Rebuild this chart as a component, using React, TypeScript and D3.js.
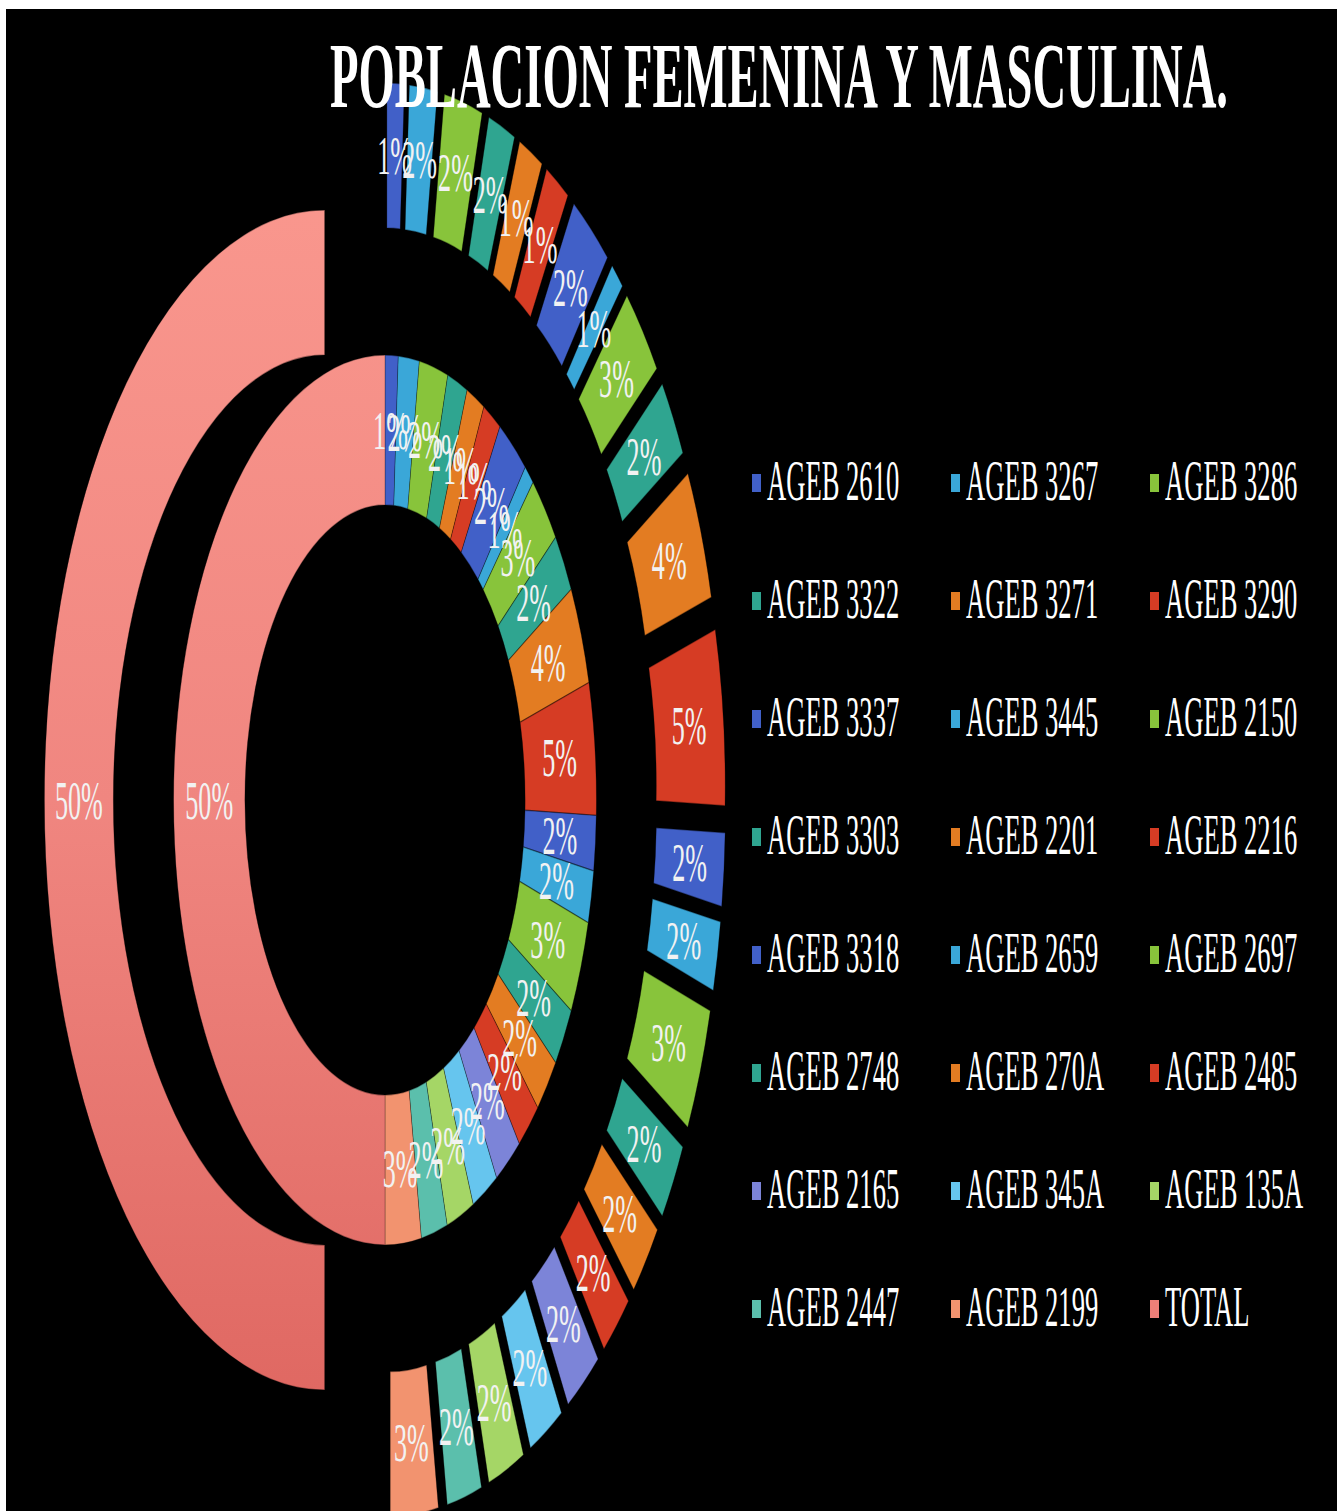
import React from "react";
import * as d3 from "d3";

const categories = [
  "AGEB 2610", "AGEB 3267", "AGEB 3286", "AGEB 3322", "AGEB 3271", "AGEB 3290",
  "AGEB 3337", "AGEB 3445", "AGEB 2150", "AGEB 3303", "AGEB 2201", "AGEB 2216",
  "AGEB 3318", "AGEB 2659", "AGEB 2697", "AGEB 2748", "AGEB 270A", "AGEB 2485",
  "AGEB 2165", "AGEB 345A", "AGEB 135A", "AGEB 2447", "AGEB 2199", "TOTAL",
];
// inner ring (femenina) and outer ring (masculina), percent of ring
const innerValues = [1.0, 1.6, 2.2, 1.55, 1.4, 1.4, 2.4, 0.8, 2.6, 2.2, 3.6, 4.8, 2.0, 1.9, 3.4, 2.2, 2.1, 1.9, 2.1, 2.0, 2.1, 2.0, 2.75, 50];
const outerValues = [1.0, 1.6, 2.2, 1.55, 1.4, 1.4, 2.4, 0.8, 2.6, 2.2, 3.6, 4.8, 2.0, 1.9, 3.4, 2.2, 2.1, 1.9, 2.1, 2.0, 2.1, 2.0, 2.75, 50];
const colors = [
  "#4160c8", "#3aa7d8", "#88c43b", "#2fa590", "#e37c22", "#d63c24",
  "#4160c8", "#3aa7d8", "#88c43b", "#2fa590", "#e37c22", "#d63c24",
  "#4160c8", "#3aa7d8", "#88c43b", "#2fa590", "#e37c22", "#d63c24",
  "#7c84d8", "#66c5ee", "#a5d666", "#5bbfac", "#f2936f", "url(#totalGrad)",
];
const legendColors = colors.map((c, i) => (i === 23 ? "#ee7f78" : c));
const title = "POBLACION FEMENINA Y MASCULINA.";

const W = 1337;
const H = 1511;
const sx = 0.475;
const cx = 385;
const cy = 800;
const R = 590;
const hole = 295;
const mid = 445;
const explode = 127;
const serif = '"Liberation Serif", "Times New Roman", "DejaVu Serif", serif';

type Datum = { name: string; value: number; color: string };

function Ring({ values, inner, outer, off }: { values: number[]; inner: number; outer: number; off: number }) {
  const data: Datum[] = values.map((v, i) => ({ name: categories[i], value: v, color: colors[i] }));
  const total = d3.sum(values);
  const pie = d3.pie<Datum>().value((d) => d.value).sort(null).startAngle(0).endAngle(Math.PI * 2);
  const arcs = pie(data);
  const arc = d3.arc<d3.PieArcDatum<Datum>>().innerRadius(inner).outerRadius(outer);
  return (
    <g>
      {arcs.map((a, i) => {
        const m = (a.startAngle + a.endAngle) / 2;
        const dx = off * Math.sin(m);
        const dy = -off * Math.cos(m);
        return (
          <g key={i} transform={`translate(${dx},${dy})`}>
            <path d={arc(a) || ""} fill={a.data.color} stroke="rgba(0,0,0,0.35)" strokeWidth={1.5} />
          </g>
        );
      })}
      {arcs.map((a, i) => {
        const m = (a.startAngle + a.endAngle) / 2;
        const rr = (inner + outer) / 2 + off;
        return (
          <text
            key={"t" + i}
            x={rr * Math.sin(m)}
            y={-rr * Math.cos(m)}
            textAnchor="middle"
            dominantBaseline="central"
            fontFamily={serif}
            fontSize={55}
            fill="#f2f2f2"
          >
            {`${Math.round((a.data.value / total) * 100 + 1e-9)}%`}
          </text>
        );
      })}
    </g>
  );
}

export default function App() {
  const legendX = [752, 951, 1150];
  const legendY0 = 500;
  const legendDY = 118;
  return (
    <svg width={W} height={H} style={{ position: "absolute", left: 0, top: 0, display: "block" }}>
      <defs>
        <linearGradient id="totalGrad" gradientUnits="userSpaceOnUse" x1="0" y1={-720} x2="0" y2={720}>
          <stop offset="0" stopColor="#fb9a90" />
          <stop offset="0.5" stopColor="#f08680" />
          <stop offset="1" stopColor="#dc625c" />
        </linearGradient>
      </defs>
      <rect x={0} y={0} width={W} height={H} fill="#ffffff" />
      <rect x={6} y={9} width={W - 6} height={H - 9} fill="#000000" />
      <g transform={`translate(${cx},${cy}) scale(${sx},1)`}>
        <Ring values={innerValues} inner={hole} outer={mid} off={0} />
        <Ring values={outerValues} inner={mid} outer={R} off={explode} />
      </g>
      {categories.map((c, i) => {
        const col = i % 3;
        const row = Math.floor(i / 3);
        const x = legendX[col];
        const y = legendY0 + row * legendDY;
        return (
          <g key={c} transform={`translate(${x},${y})`}>
            <rect x={0} y={-26} width={9} height={18} fill={legendColors[i]} />
            <text
              transform={`translate(15,0) scale(${sx},1)`}
              x={0}
              y={0}
              fontFamily={serif}
              fontSize={56}
              fill="#ffffff"
            >
              {c}
            </text>
          </g>
        );
      })}
      <text
        x={330}
        y={107}
        fontFamily={serif}
        fontWeight="bold"
        fontSize={94}
        fill="#ffffff"
        textLength={898}
        lengthAdjust="spacingAndGlyphs"
      >
        {title}
      </text>
    </svg>
  );
}
